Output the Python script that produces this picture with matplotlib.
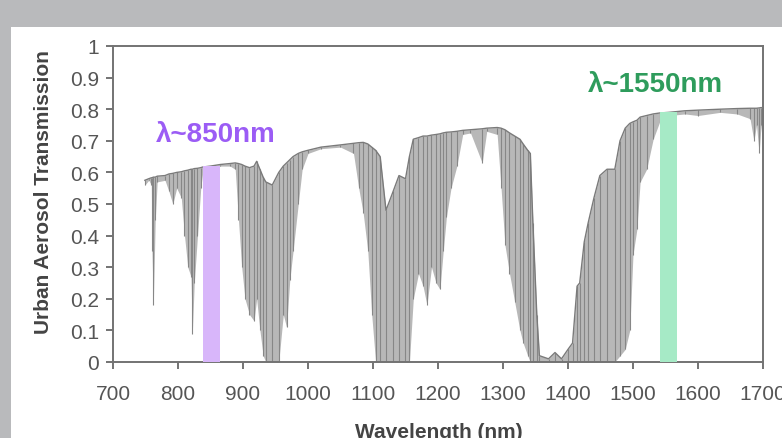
import matplotlib
matplotlib.use("Agg")
import matplotlib.pyplot as plt
from matplotlib.patches import Rectangle

# ---- data ----
wavelength = [749, 755, 759, 760, 762, 765, 768, 780, 786, 792, 798, 805, 810, 815, 820, 822, 825,
              830, 835, 838, 850, 865, 880, 888, 893, 898, 903, 910, 917, 921, 926, 931, 935, 945,
              955, 962, 967, 972, 977, 985, 991, 1000, 1020, 1050, 1070, 1078, 1085, 1092, 1098,
              1104, 1111, 1120, 1131, 1140, 1150, 1156, 1162, 1170, 1177, 1183, 1190, 1197, 1203,
              1208, 1213, 1220, 1229, 1238, 1250, 1268, 1275, 1291, 1297, 1303, 1310, 1318, 1326,
              1331, 1338, 1342, 1346, 1352, 1356, 1370, 1380, 1390, 1400, 1407, 1414, 1418, 1425,
              1431, 1440, 1449, 1460, 1472, 1480, 1488, 1495, 1500, 1506, 1511, 1521, 1531, 1541,
              1555, 1580, 1600, 1634, 1660, 1680, 1686, 1690, 1694, 1697, 1700]
upper = [0.575, 0.58, 0.583, 0.583, 0.585, 0.585, 0.588, 0.59, 0.595, 0.597, 0.60, 0.602, 0.605,
         0.607, 0.61, 0.61, 0.612, 0.613, 0.615, 0.617, 0.62, 0.625, 0.628, 0.63, 0.628, 0.625,
         0.62, 0.615, 0.62, 0.635, 0.61, 0.585, 0.57, 0.56, 0.60, 0.62, 0.63, 0.64, 0.65, 0.66,
         0.665, 0.67, 0.68, 0.687, 0.692, 0.694, 0.695, 0.69, 0.68, 0.67, 0.65, 0.48, 0.54, 0.59,
         0.58, 0.65, 0.705, 0.71, 0.715, 0.715, 0.718, 0.72, 0.722, 0.725, 0.727, 0.728, 0.73,
         0.733, 0.735, 0.738, 0.74, 0.742, 0.74, 0.735, 0.725, 0.715, 0.705, 0.69, 0.67, 0.66,
         0.44, 0.15, 0.02, 0.01, 0.03, 0.01, 0.04, 0.06, 0.24, 0.25, 0.38, 0.44, 0.52, 0.59, 0.61,
         0.61, 0.70, 0.74, 0.755, 0.76, 0.765, 0.775, 0.78, 0.785, 0.788, 0.79, 0.795, 0.797,
         0.80, 0.802, 0.803, 0.803, 0.803, 0.804, 0.805, 0.805]
lower = [0.56, 0.575, 0.56, 0.35, 0.18, 0.45, 0.57, 0.575, 0.54, 0.50, 0.55, 0.52, 0.40, 0.30,
         0.27, 0.09, 0.25, 0.40, 0.55, 0.60, 0.615, 0.62, 0.62, 0.61, 0.45, 0.30, 0.20, 0.15, 0.13,
         0.20, 0.10, 0.02, 0.0, 0.0, 0.0, 0.15, 0.11, 0.26, 0.35, 0.50, 0.61, 0.66, 0.675, 0.68,
         0.66, 0.55, 0.47, 0.35, 0.15, 0.0, 0.0, 0.0, 0.0, 0.0, 0.0, 0.0, 0.20, 0.28, 0.24, 0.18,
         0.30, 0.25, 0.23, 0.35, 0.46, 0.55, 0.62, 0.72, 0.725, 0.63, 0.73, 0.72, 0.55, 0.37, 0.28,
         0.19, 0.10, 0.06, 0.02, 0.0, 0.0, 0.0, 0.0, 0.0, 0.0, 0.0, 0.0, 0.0, 0.0, 0.0, 0.0, 0.0,
         0.0, 0.0, 0.0, 0.0, 0.02, 0.04, 0.10, 0.34, 0.42, 0.57, 0.61, 0.705, 0.76, 0.78, 0.785,
         0.78, 0.79, 0.785, 0.77, 0.70, 0.75, 0.66, 0.75, 0.65]

band_centers = [851, 1555]
band_heights = [0.62, 0.79]
band_labels = ["λ~850nm", "λ~1550nm"]
band_width = 26

x_ticks = [700, 800, 900, 1000, 1100, 1200, 1300, 1400, 1500, 1600, 1700]
y_ticks = [0, 0.1, 0.2, 0.3, 0.4, 0.5, 0.6, 0.7, 0.8, 0.9, 1]
y_tick_labels = ["0", "0.1", "0.2", "0.3", "0.4", "0.5", "0.6", "0.7", "0.8", "0.9", "1"]

plt.rcParams['font.family'] = ['Liberation Sans', 'DejaVu Sans']

W, H = 782, 439
fig = plt.figure(figsize=(W / 100, H / 100), dpi=100, facecolor='#b9babc')
# white page
fig.patches.append(Rectangle((11 / W, 0), 1, 1 - 28 / H, transform=fig.transFigure,
                             facecolor='white', edgecolor='none', zorder=-5))

ax = fig.add_axes([113 / W, 1 - 363 / H, 650 / W, 316 / H])
ax.set_zorder(2)
ax.set_facecolor('none')

ax.fill_between(wavelength, lower, upper, color='#b8b8b8', linewidth=0, zorder=2)
ax.vlines(wavelength, lower, upper, color='#878787', linewidth=0.8, zorder=2)
ax.plot(wavelength, upper, color='#7a7a7a', linewidth=1.0, zorder=3)

colors_bar = ['#d8b6fa', '#a6eac6']
colors_txt = ['#9b5cf5', '#2e9c5c']
for c, h, col in zip(band_centers, band_heights, colors_bar):
    ax.bar(c, h, width=band_width, color=col, zorder=4, linewidth=0)

ax.text(858, 0.72, band_labels[0], color=colors_txt[0], fontsize=20, fontweight='bold',
        ha='center', va='center', zorder=5)
ax.text(1534, 0.88, band_labels[1], color=colors_txt[1], fontsize=20, fontweight='bold',
        ha='center', va='center', zorder=5)

ax.set_xlim(700, 1700)
ax.set_ylim(0, 1)
ax.set_xticks(x_ticks)
ax.set_yticks(y_ticks)
ax.set_yticklabels(y_tick_labels)
for s in ax.spines.values():
    s.set_color('#737373')
    s.set_linewidth(1.4)
ax.tick_params(axis='both', colors='#737373', labelcolor='#555555', labelsize=15,
               length=5, width=1.4, direction='out')
ax.tick_params(axis='x', pad=11)
ax.tick_params(axis='y', pad=5)

ax.set_xlabel('Wavelength (nm)', fontsize=15, fontweight='bold', color='#444444')
ax.xaxis.set_label_coords((439 - 113) / 650, -(423 - 363) / 316)
ax.set_ylabel('Urban Aerosol Transmission', fontsize=15, fontweight='bold', color='#444444')
ax.yaxis.set_label_coords(-(113 - 53) / 650, (363 - 192) / 316)

fig.savefig('out.png', dpi=100, facecolor=fig.get_facecolor())
